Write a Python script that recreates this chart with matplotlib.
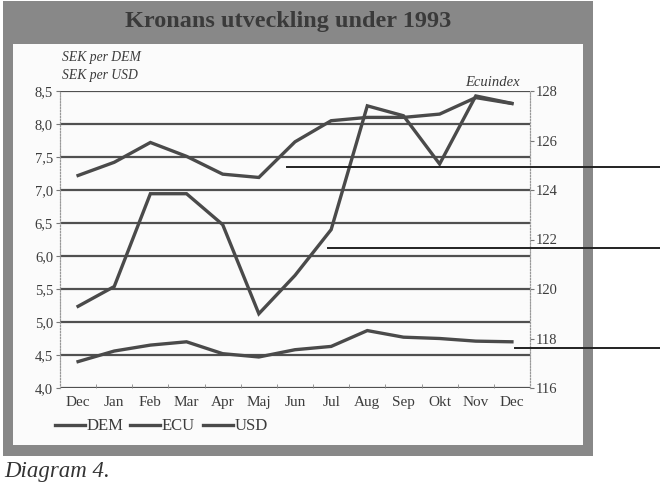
import matplotlib
matplotlib.use("Agg")
import matplotlib.pyplot as plt
from matplotlib.patches import Rectangle
from matplotlib.lines import Line2D

months = ["Dec", "Jan", "Feb", "Mar", "Apr", "Maj", "Jun", "Jul",
          "Aug", "Sep", "Okt", "Nov", "Dec"]
dem = [4.40, 4.56, 4.65, 4.70, 4.52, 4.47, 4.58, 4.63, 4.87, 4.77, 4.75, 4.71, 4.70]
usd = [7.22, 7.42, 7.72, 7.51, 7.24, 7.19, 7.73, 8.05, 8.10, 8.10, 8.15, 8.40, 8.31]
ecu = [119.3, 120.1, 123.85, 123.85, 122.6, 119.0, 120.55, 122.4, 127.4, 127.0, 125.05, 127.8, 127.5]
left_ticks = [4.0, 4.5, 5.0, 5.5, 6.0, 6.5, 7.0, 7.5, 8.0, 8.5]
right_ticks = [116, 118, 120, 122, 124, 126, 128]

W, H = 660, 496
serif = ["Liberation Serif", "DejaVu Serif"]
ink = "#3c3c3c"

fig = plt.figure(figsize=(6.6, 4.96), dpi=100)
fig.patch.set_facecolor("white")


def box(x0, y0, x1, y1, **kw):
    # pixel coords from top-left
    fig.add_artist(Rectangle((x0 / W, 1 - y1 / H), (x1 - x0) / W, (y1 - y0) / H,
                             transform=fig.transFigure, zorder=-10, **kw))


box(3, 1, 593, 456, facecolor="#888888", edgecolor="none")
box(13, 44, 583, 445, facecolor="#fbfbfb", edgecolor="none")
fig.text(288 / W, 1 - 21 / H, "Kronans utveckling under 1993", ha="center", va="center",
         family=serif, fontsize=17.5, fontweight="bold", color="#3a3a3a")

ax = fig.add_axes([60 / W, 1 - 388 / H, 470 / W, 297 / H])
ax.set_facecolor("none")
ax2 = ax.twinx()

x = list(range(len(months)))
lw = 2.4
col = "#4a4a4a"
ax.plot(x, dem, color=col, lw=lw, solid_joinstyle="miter")
ax.plot(x, usd, color=col, lw=lw, solid_joinstyle="miter")
ax2.plot(x, ecu, color=col, lw=lw, solid_joinstyle="miter")

ax.set_xlim(-0.5, 12.5)
ax.set_ylim(4.0, 8.5)
ax2.set_ylim(116, 128)

for v in left_ticks:
    ax.axhline(v, color="#505050", lw=1.6, zorder=0)

ax.set_yticks(left_ticks)
ax.set_yticklabels([f"{v:.1f}".replace(".", ",") for v in left_ticks],
                   family=serif, fontsize=10.5, color=ink)
ax2.set_yticks(right_ticks)
ax2.set_yticklabels([str(v) for v in right_ticks], family=serif, fontsize=10.5, color=ink)
ax.set_xticks(x)
ax.set_xticklabels(months, family=serif, fontsize=11, color=ink)
ax.tick_params(axis="x", length=0, pad=6)
ax.tick_params(axis="y", length=3, width=0.8, color="#777777", pad=2)
ax2.tick_params(axis="y", length=3, width=0.8, color="#777777", pad=1)
ax.set_xticks([i + 0.5 for i in range(12)], minor=True)
ax.tick_params(axis="x", which="minor", direction="in", length=3, color="#888888")

for a in (ax, ax2):
    for s in ("top", "bottom"):
        a.spines[s].set_visible(False)
    for s in ("left", "right"):
        a.spines[s].set_linestyle(":")
        a.spines[s].set_color("#999999")
        a.spines[s].set_linewidth(0.8)

fig.text(62 / W, 1 - 58 / H, "SEK per DEM", family=serif, style="italic",
         fontsize=9.8, color=ink, va="center")
fig.text(62 / W, 1 - 75 / H, "SEK per USD", family=serif, style="italic",
         fontsize=9.8, color=ink, va="center")
fig.text(520 / W, 1 - 82 / H, "Ecuindex", family=serif, style="italic",
         fontsize=10.5, color=ink, va="center", ha="right")

# legend
for x0, name in [(55, "DEM"), (130, "ECU"), (203, "USD")]:
    fig.add_artist(Line2D([x0 / W, (x0 + 30) / W], [1 - 425 / H, 1 - 425 / H],
                          transform=fig.transFigure, color=col, lw=2.4))
    fig.text((x0 + 32) / W, 1 - 426 / H, name, family=serif, fontsize=12,
             color=ink, va="center")

# leader lines from the page layout
for x0, y in [(287, 167), (328, 248), (515, 348)]:
    fig.add_artist(Line2D([x0 / W, 1.0], [1 - y / H, 1 - y / H],
                          transform=fig.transFigure, color="#222222", lw=1.4))

fig.text(4 / W, 1 - 472 / H, "Diagram 4.", family=serif, style="italic",
         fontsize=16.5, color="#333333", va="center")

fig.savefig("out.png", dpi=100)
